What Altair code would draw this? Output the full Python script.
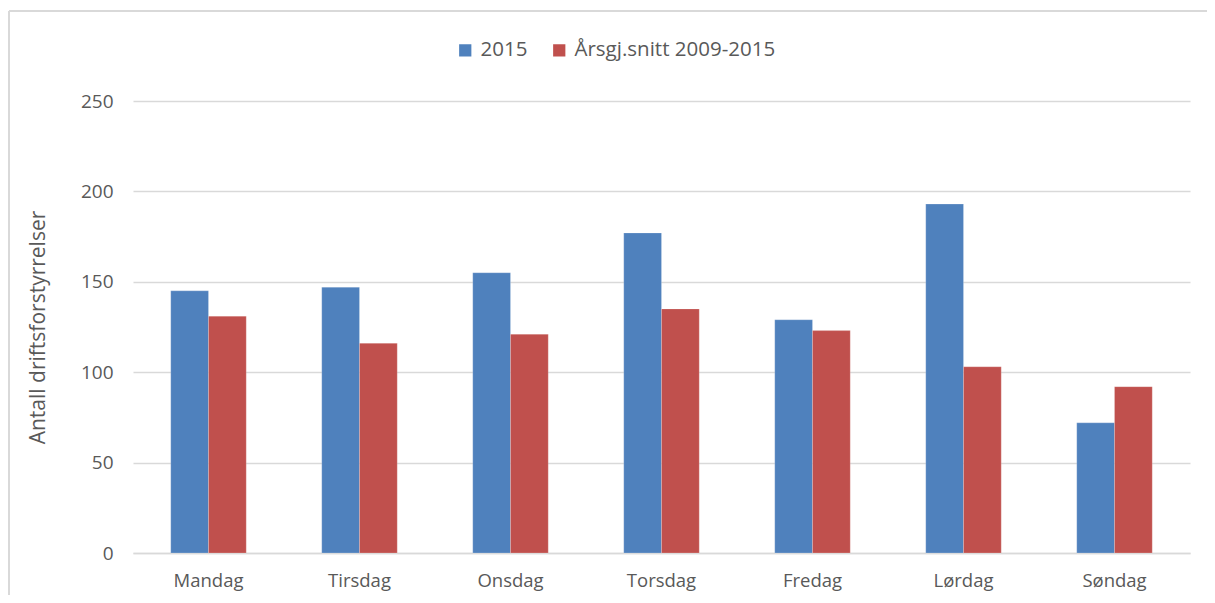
import altair as alt
import pandas as pd

days = ["Mandag", "Tirsdag", "Onsdag", "Torsdag", "Fredag", "Lørdag", "Søndag"]
series_names = ["2015", "Årsgj.snitt 2009-2015"]
values_2015 = [145, 147, 155, 177, 129, 193, 72]
values_avg = [131, 116, 121, 135, 123, 103, 92]
colors = ["#4F81BD", "#C0504D"]

rows = []
for d, a, b in zip(days, values_2015, values_avg):
    rows.append({"dag": d, "serie": series_names[0], "verdi": a})
    rows.append({"dag": d, "serie": series_names[1], "verdi": b})
df = pd.DataFrame(rows)

W, H = 1057, 452
FONT = "Open Sans"
TXT = "#595959"

bars = alt.Chart(df).mark_bar(stroke="white", strokeWidth=0.5, strokeOpacity=0.4).encode(
    x=alt.X("dag:N", sort=days, title=None,
            scale=alt.Scale(paddingInner=0.5, paddingOuter=0.25),
            axis=alt.Axis(labelAngle=0, ticks=False, domain=True, domainColor="#D9D9D9",
                          domainWidth=1.5, labelFontSize=18.5, labelColor=TXT, labelFont=FONT,
                          labelPadding=18, grid=False)),
    xOffset=alt.XOffset("serie:N", sort=series_names),
    y=alt.Y("verdi:Q", title="Antall driftsforstyrrelser",
            scale=alt.Scale(domain=[0, 250]),
            axis=alt.Axis(values=[0, 50, 100, 150, 200, 250], ticks=False, domain=False,
                          gridColor="#D9D9D9", gridWidth=1.5, labelFontSize=19,
                          labelColor=TXT, labelFont=FONT, labelPadding=20,
                          titleFontSize=21, titleColor=TXT, titleFont=FONT,
                          titleFontWeight="normal", titlePadding=32)),
    color=alt.Color("serie:N", sort=series_names,
                    scale=alt.Scale(domain=series_names, range=colors),
                    legend=alt.Legend(title=None, orient="none", direction="horizontal",
                                      legendX=322, legendY=-61, symbolType="square",
                                      symbolSize=150, symbolStrokeWidth=0,
                                      labelFontSize=20.5, labelColor=TXT, labelFont=FONT,
                                      labelLimit=0, columnPadding=21, labelOffset=5)),
)

frame_top = alt.Chart(pd.DataFrame({"a": [0]})).mark_rule(color="#D9D9D9", strokeWidth=2).encode(
    x=alt.value(-124), x2=alt.value(W + 17), y=alt.value(-90)
)
frame_left = alt.Chart(pd.DataFrame({"a": [0]})).mark_rule(color="#D9D9D9", strokeWidth=2).encode(
    x=alt.value(-124), y=alt.value(-90), y2=alt.value(H + 42)
)

chart = alt.layer(frame_top, frame_left, bars).properties(
    width=W, height=H,
    background="white",
    autosize=alt.AutoSizeParams(type="none"),
    padding={"left": 125, "top": 93, "right": 17, "bottom": 42},
).configure_view(stroke="transparent", strokeWidth=0)

chart.save("out.html", embed_options={"renderer": "svg", "actions": False})
